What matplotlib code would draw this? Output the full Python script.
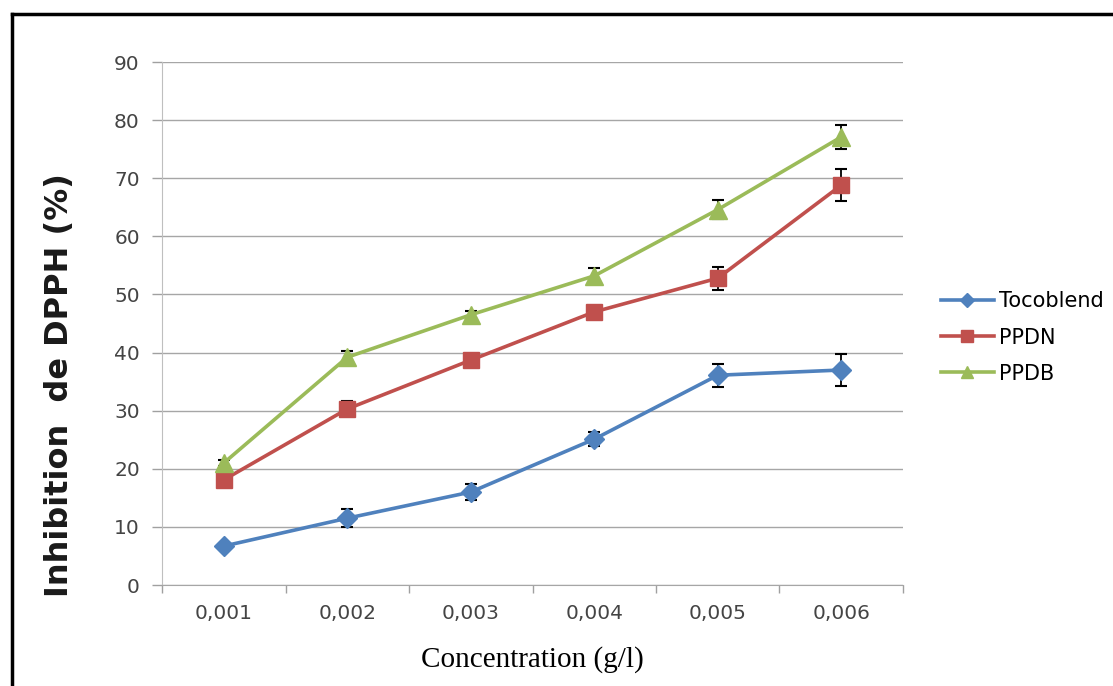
import numpy as np
import matplotlib
matplotlib.use("Agg")
import matplotlib.pyplot as plt
from matplotlib.lines import Line2D


concentrations = ["0,001", "0,002", "0,003", "0,004", "0,005", "0,006"]

tocoblend = [6.7, 11.5, 16.0, 25.1, 36.1, 37.0]
tocoblend_err = [0.4, 1.6, 1.4, 1.2, 2.0, 2.7]

ppdn = [18.1, 30.3, 38.7, 47.0, 52.8, 68.8]
ppdn_err = [0.5, 1.3, 0.8, 0.8, 2.0, 2.8]

ppdb = [21.0, 39.2, 46.5, 53.2, 64.6, 77.1]
ppdb_err = [0.5, 1.0, 0.6, 1.3, 1.7, 2.1]

series = [
    ("Tocoblend", tocoblend, tocoblend_err, "#4F81BD", "D", 10),
    ("PPDN", ppdn, ppdn_err, "#C0504D", "s", 12),
    ("PPDB", ppdb, ppdb_err, "#9BBB59", "^", 13),
]

fig = plt.figure(figsize=(11.13, 6.86), dpi=100)
ax = fig.add_axes([0.1456, 0.1472, 0.6657, 0.7624])

x = np.arange(len(concentrations))

handles = []
for name, vals, err, col, mk, ms in series:
    ax.errorbar(x, vals, yerr=err, fmt="none", ecolor="black",
                elinewidth=1.3, capsize=4, capthick=1.5, zorder=2)
    ax.plot(x, vals, color=col, lw=2.6, marker=mk, ms=ms,
            mec=col, mfc=col, zorder=3)
    handles.append(Line2D([], [], color=col, lw=2.6, marker=mk,
                          ms=ms * 0.7, mec=col, mfc=col, label=name))

ax.set_xlim(-0.5, len(concentrations) - 0.5)
ax.set_ylim(0, 90)
ax.set_yticks(np.arange(0, 91, 10))

# category boundaries carry the tick marks, labels sit at the centres
ax.set_xticks(np.arange(-0.5, len(concentrations), 1.0))
ax.set_xticklabels([])
ax.set_xticks(x, minor=True)
ax.set_xticklabels(concentrations, minor=True)
ax.tick_params(axis="x", which="major", length=6, color="#A0A0A0", width=1)
ax.tick_params(axis="x", which="minor", length=0, pad=14,
               labelsize=14.5, labelcolor="#444444")
ax.tick_params(axis="y", length=7, color="#A0A0A0", width=1, pad=9,
               labelsize=14.5, labelcolor="#444444")

ax.grid(axis="y", color="#A6A6A6", lw=1)
ax.set_axisbelow(True)
for s in ["top", "right"]:
    ax.spines[s].set_visible(False)
ax.spines["left"].set_color("#BFBFBF")
ax.spines["bottom"].set_color("#A6A6A6")

ax.set_ylabel("Inhibition  de DPPH (%)", fontsize=23, fontweight="bold",
              color="#1A1A1A")
ax.yaxis.set_label_coords(-0.118, 0.382)
ax.set_xlabel("Concentration (g/l)", fontsize=21, family="Liberation Serif",
              color="black", labelpad=16)

fig.legend(handles=handles, loc="center left", bbox_to_anchor=(0.829, 0.508),
           frameon=False, fontsize=15, handlelength=2.5,
           handletextpad=0.25, labelspacing=0.78)

# frame around the figure (left and top edges)
fig.add_artist(Line2D([0.0105, 0.0105], [0.0, 0.980], color="black",
                      lw=2.5, transform=fig.transFigure))
fig.add_artist(Line2D([0.0105, 1.0], [0.980, 0.980], color="black",
                      lw=2.5, transform=fig.transFigure))

fig.savefig("out.png", dpi=100)
